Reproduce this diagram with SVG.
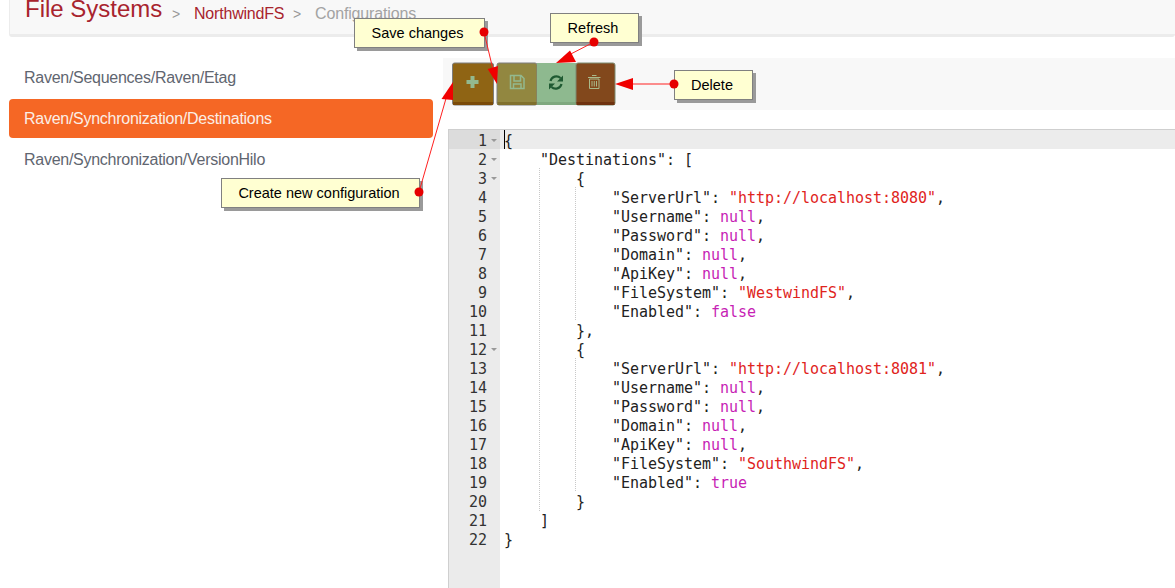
<svg xmlns="http://www.w3.org/2000/svg" width="1175" height="588" viewBox="0 0 1175 588">
<style>
.code{font-family:"DejaVu Sans Mono",monospace;font-size:15px;fill:#222;letter-spacing:-0.03px}
.s{fill:#e0241c}.k{fill:#c71fb5}
.ln{font-family:"DejaVu Sans Mono",monospace;font-size:15px;fill:#333;text-anchor:end}
.nav{font-family:"Liberation Sans",Arial,sans-serif;font-size:16px;fill:#5f6670;letter-spacing:-0.27px}
.cl{font-family:"Liberation Sans",Arial,sans-serif;font-size:14.5px;fill:#000;text-anchor:middle}
.box{fill:#ffffd2;stroke:#808080;stroke-width:1}
.shadow{fill:#9a9a9a}
.link{stroke:#ff2020;stroke-width:1;fill:none}
.head{fill:#f00000}
.dot{fill:#e60000}
.guide{stroke:#c8c8c8;stroke-width:1;stroke-dasharray:1 1}
.fold{fill:#999}
</style>
<rect width="1175" height="588" fill="#fff"/>
<g id="header">
<rect x="9" y="-4" width="1166" height="41" rx="3" fill="#ececec"/>
<rect x="10" y="-4" width="1165" height="38" fill="#f8f8f8"/>
<text x="25" y="17" font-family="'Liberation Sans',Arial,sans-serif" font-size="24px" fill="#a8242e">File Systems</text>
<text x="172" y="19" font-family="'Liberation Sans',Arial,sans-serif" font-size="14px" fill="#999">&gt;</text>
<text x="194" y="19" font-family="'Liberation Sans',Arial,sans-serif" font-size="16px" letter-spacing="-0.2" fill="#a8242e">NorthwindFS</text>
<text x="293" y="19" font-family="'Liberation Sans',Arial,sans-serif" font-size="14px" fill="#999">&gt;</text>
<text x="315" y="19" font-family="'Liberation Sans',Arial,sans-serif" font-size="16px" letter-spacing="-0.15" fill="#a3a3a3">Configurations</text>
</g>
<g id="sidebar">
<text class="nav" x="24" y="83">Raven/Sequences/Raven/Etag</text>
<rect x="9" y="99" width="424" height="39" rx="4" fill="#f56725"/>
<text class="nav" x="24" y="124" style="fill:#fbeee6">Raven/Synchronization/Destinations</text>
<text class="nav" x="24" y="165">Raven/Synchronization/VersionHilo</text>
</g>
<g id="toolbar">
<rect x="443" y="58" width="732" height="52" fill="#f8f8f8"/>
</g>
<g id="editor">
<rect x="448" y="129" width="727" height="459" fill="#fff"/>
<rect x="449" y="130" width="51" height="458" fill="#ebebeb"/>
<rect x="448" y="129" width="727" height="1" fill="#cfcfcf"/>
<rect x="448" y="129" width="1" height="459" fill="#cfcfcf"/>
<rect x="500" y="130" width="675" height="19" fill="#ececec"/>
<rect x="449" y="130" width="51" height="19" fill="#dcdcdc"/>
<rect x="504" y="130" width="1" height="19" fill="#000"/>
<line class="guide" x1="539.5" y1="168" x2="539.5" y2="511"/>
<line class="guide" x1="575.5" y1="187" x2="575.5" y2="321"/>
<line class="guide" x1="575.5" y1="358" x2="575.5" y2="492"/>
<text class="ln" x="487" y="145.500">1</text><text class="ln" x="487" y="164.500">2</text><text class="ln" x="487" y="183.500">3</text><text class="ln" x="487" y="202.500">4</text><text class="ln" x="487" y="221.500">5</text><text class="ln" x="487" y="240.500">6</text><text class="ln" x="487" y="259.500">7</text><text class="ln" x="487" y="278.500">8</text><text class="ln" x="487" y="297.500">9</text><text class="ln" x="487" y="316.500">10</text><text class="ln" x="487" y="335.500">11</text><text class="ln" x="487" y="354.500">12</text><text class="ln" x="487" y="373.500">13</text><text class="ln" x="487" y="392.500">14</text><text class="ln" x="487" y="411.500">15</text><text class="ln" x="487" y="430.500">16</text><text class="ln" x="487" y="449.500">17</text><text class="ln" x="487" y="468.500">18</text><text class="ln" x="487" y="487.500">19</text><text class="ln" x="487" y="506.500">20</text><text class="ln" x="487" y="525.500">21</text><text class="ln" x="487" y="544.500">22</text>
<path class="fold" d="M491 139h6l-3 3zM491 158h6l-3 3zM491 177h6l-3 3zM491 348h6l-3 3z"/>
<text class="code" x="504" y="145.500">{</text>
<text class="code" x="540" y="164.500">"Destinations": [</text>
<text class="code" x="576" y="183.500">{</text>
<text class="code" x="612" y="202.500">"ServerUrl": <tspan class="s">"http://localhost:8080"</tspan>,</text>
<text class="code" x="612" y="221.500">"Username": <tspan class="k">null</tspan>,</text>
<text class="code" x="612" y="240.500">"Password": <tspan class="k">null</tspan>,</text>
<text class="code" x="612" y="259.500">"Domain": <tspan class="k">null</tspan>,</text>
<text class="code" x="612" y="278.500">"ApiKey": <tspan class="k">null</tspan>,</text>
<text class="code" x="612" y="297.500">"FileSystem": <tspan class="s">"WestwindFS"</tspan>,</text>
<text class="code" x="612" y="316.500">"Enabled": <tspan class="k">false</tspan></text>
<text class="code" x="576" y="335.500">},</text>
<text class="code" x="576" y="354.500">{</text>
<text class="code" x="612" y="373.500">"ServerUrl": <tspan class="s">"http://localhost:8081"</tspan>,</text>
<text class="code" x="612" y="392.500">"Username": <tspan class="k">null</tspan>,</text>
<text class="code" x="612" y="411.500">"Password": <tspan class="k">null</tspan>,</text>
<text class="code" x="612" y="430.500">"Domain": <tspan class="k">null</tspan>,</text>
<text class="code" x="612" y="449.500">"ApiKey": <tspan class="k">null</tspan>,</text>
<text class="code" x="612" y="468.500">"FileSystem": <tspan class="s">"SouthwindFS"</tspan>,</text>
<text class="code" x="612" y="487.500">"Enabled": <tspan class="k">true</tspan></text>
<text class="code" x="576" y="506.500">}</text>
<text class="code" x="540" y="525.500">]</text>
<text class="code" x="504" y="544.500">}</text>
</g>
<g id="btn-add">
<rect x="452.500" y="63" width="41" height="42" rx="2" fill="#8f6414" stroke="#7d7d7d"/>
<rect x="453" y="102" width="40" height="3" fill="#7a4a08"/>
<path d="M470.500 76h4v4h4v4h-4v4h-4v-4h-4v-4h4z" fill="#93b98e"/>
</g>
<g id="btn-save">
<rect x="497" y="63" width="40" height="42" rx="2" fill="#928740" stroke="#7d7d7d"/>
<rect x="497.500" y="102" width="39" height="3" fill="#7f6f2c"/>
<path d="M510.500 75.500h10.500l3 3v10h-13.500zM514 76v5h6.500v-5M513.500 88.500v-4.500h7.500v4.500" fill="none" stroke="#93b98e" stroke-width="1.500"/>
</g>
<g id="btn-refresh">
<rect x="537" y="63" width="39" height="42" fill="#8eb98f"/>
<rect x="537" y="102" width="39" height="3" fill="#7fa87f"/>
<path d="M550.500 81a6 6 0 0 1 10-3M561.500 84a6 6 0 0 1-10 3" fill="none" stroke="#1f5a32" stroke-width="2.200"/>
<path d="M563 75.500v6h-6zM549 89.500v-6h6z" fill="#1f5a32"/>
</g>
<g id="btn-delete">
<rect x="576" y="63" width="39" height="42" rx="2" fill="#82481c" stroke="#7d8a70"/>
<rect x="576.500" y="102" width="38" height="3" fill="#6e320f"/>
<path d="M589.500 79h9.500v9.500h-9.500zM588 77.500h12.500M592 75.500h4.500M592 81v5.500M594.250 81v5.500M596.500 81v5.500" fill="none" stroke="#a9b98a" stroke-width="1"/>
</g>
<g id="callout-save">
<rect class="shadow" x="357" y="21" width="131" height="30"/>
<rect class="box" x="354.500" y="18.500" width="130" height="29"/>
<text class="cl" x="417.500" y="38">Save changes</text>
</g>
<g id="callout-refresh">
<rect class="shadow" x="553" y="16" width="89" height="30"/>
<rect class="box" x="550.500" y="13.500" width="88" height="29"/>
<text class="cl" x="593" y="33">Refresh</text>
</g>
<g id="callout-delete">
<rect class="shadow" x="677" y="73" width="79" height="30"/>
<rect class="box" x="674.500" y="70.500" width="78" height="29"/>
<text class="cl" x="712" y="90">Delete</text>
</g>
<g id="callout-create">
<rect class="shadow" x="224" y="181" width="199" height="30"/>
<rect class="box" x="221.500" y="178.500" width="198" height="29"/>
<text class="cl" x="319" y="198">Create new configuration</text>
</g>
<g id="connectors">
<line class="link" x1="484" y1="32" x2="495" y2="78"/>
<path class="head" d="M497 84L487.700 69L498 66z"/>
<circle class="dot" cx="484" cy="32" r="4.500"/>
<line class="link" x1="594" y1="42" x2="565" y2="57"/>
<path class="head" d="M556 63L570 50.500L576 62z"/>
<circle class="dot" cx="594" cy="42" r="4.500"/>
<line class="link" x1="674" y1="84" x2="625" y2="84"/>
<path class="head" d="M615 84L633 78L633 90z"/>
<circle class="dot" cx="674" cy="84" r="4.500"/>
<line class="link" x1="419" y1="192" x2="447" y2="95"/>
<path class="head" d="M453 82L441.500 99L453 100z"/>
<circle class="dot" cx="419" cy="192" r="4.500"/>
</g>
</svg>
